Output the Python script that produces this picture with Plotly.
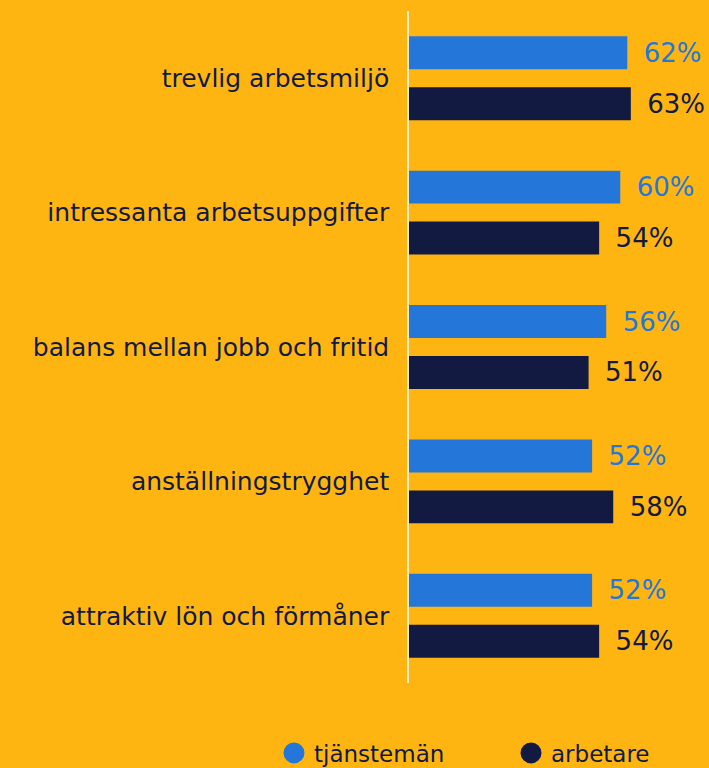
import plotly.graph_objects as go

categories = ["trevlig arbetsmiljö", "intressanta arbetsuppgifter",
              "balans mellan jobb och fritid", "anställningstrygghet",
              "attraktiv lön och förmåner"]
tjanstemän = [62, 60, 56, 52, 52]
arbetare = [63, 54, 51, 58, 54]
series_names = ["tjänstemän", "arbetare"]

BG = "#FFB511"
BLUE = "#2477D8"
NAVY = "#121A42"
FONT = "DejaVu Sans"
PAD = "\u00a0\u2009"

fig = go.Figure()
for name, vals, col, lg in [(series_names[0], tjanstemän, BLUE, "legend"),
                            (series_names[1], arbetare, NAVY, "legend2")]:
    fig.add_trace(go.Bar(
        y=categories, x=vals, orientation="h", name=name,
        marker=dict(color=col, line=dict(width=0)),
        text=[f"{PAD}{v}%" for v in vals], textposition="outside",
        textfont=dict(color=col, size=26, family=FONT),
        cliponaxis=False, showlegend=False,
    ))
    fig.add_trace(go.Scatter(
        x=[None], y=[None], mode="markers", name=name,
        marker=dict(color=col, size=22, symbol="circle", line=dict(color=col, width=6)),
        showlegend=True, legend=lg,
    ))

legend_common = dict(orientation="h", xref="container", yref="container",
                     xanchor="left", yanchor="middle",
                     font=dict(size=23, color=NAVY, family=FONT),
                     itemsizing="trace", bgcolor="rgba(0,0,0,0)")

fig.update_layout(
    width=709, height=768,
    paper_bgcolor=BG, plot_bgcolor=BG,
    margin=dict(l=409, r=0, t=11, b=85, autoexpand=False),
    barmode="group", bargap=0.2416, bargroupgap=0.353,
    font=dict(family=FONT, color=NAVY, size=25),
    xaxis=dict(range=[0, 85.2], visible=False, fixedrange=True),
    yaxis=dict(autorange="reversed", showline=True, linecolor="#FFF0C8", linewidth=1.5,
               showgrid=False, ticks="", ticklabelstandoff=13, fixedrange=True,
               tickfont=dict(size=25, color=NAVY, family=FONT)),
    legend=dict(x=274 / 709, y=15 / 768, **legend_common),
    legend2=dict(x=511 / 709, y=15 / 768, **legend_common),
)
fig.write_html("out.html", config={"displayModeBar": False},
               post_script="document.body.style.margin='0';document.body.style.overflow='hidden';")
